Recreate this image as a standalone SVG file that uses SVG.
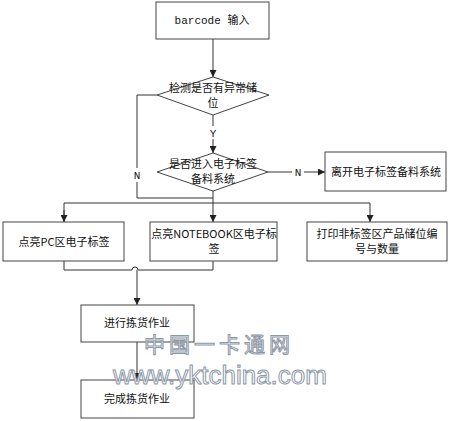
<svg xmlns="http://www.w3.org/2000/svg" width="450" height="421" viewBox="0 0 450 421">
<style>
.box{fill:#fff;stroke:#444;stroke-width:1}
.ln{fill:none;stroke:#333;stroke-width:1}
.t{font-family:"Noto Sans CJK SC","Liberation Sans",sans-serif;font-size:11px;fill:#111;text-anchor:middle}
.m{font-family:"Liberation Mono","Noto Sans CJK SC",monospace;font-size:11px;fill:#111;text-anchor:middle}
.wm{font-family:"Liberation Sans","Noto Sans CJK SC",sans-serif;fill:#fff;stroke:#8c97a8;stroke-width:1;text-anchor:middle}
</style>
<defs>
<marker id="ah" viewBox="0 0 8 8" refX="8" refY="4" markerWidth="7" markerHeight="7" orient="auto" markerUnits="userSpaceOnUse">
<path d="M0,0 L8,4 L0,8 Z" fill="#222"/>
</marker>
</defs>
<rect width="450" height="421" fill="#fff"/>
<g id="connectors">
<line class="ln" x1="213" y1="39" x2="213" y2="77" marker-end="url(#ah)"/>
<line class="ln" x1="213" y1="115" x2="213" y2="153" marker-end="url(#ah)"/>
<rect x="207" y="126" width="12" height="13" fill="#fff"/>
<text class="m" x="213" y="137">Y</text>
<polyline class="ln" points="157,95 137,95 137,198 213,198"/>
<rect x="131" y="168" width="12" height="14" fill="#fff"/>
<text class="m" x="137" y="179">N</text>
<line class="ln" x1="268" y1="172" x2="325" y2="172" marker-end="url(#ah)"/>
<rect x="292" y="166" width="12" height="13" fill="#fff"/>
<text class="m" x="298" y="176">N</text>
<line class="ln" x1="213" y1="191" x2="213" y2="222" marker-end="url(#ah)"/>
<polyline class="ln" points="64,222 64,203 370,203 370,222" marker-end="url(#ah)"/>
<line class="ln" x1="64" y1="210" x2="64" y2="222" marker-end="url(#ah)"/>
<path class="ln" d="M64,261 L64,270 L132,270 A3,3 0 0 1 138,270 L213,270 L213,261"/>
<line class="ln" x1="137" y1="270" x2="137" y2="305" marker-end="url(#ah)"/>
<line class="ln" x1="137" y1="342" x2="137" y2="380" marker-end="url(#ah)"/>
</g>
<g id="n1"><rect class="box" x="156" y="2" width="113" height="37"/><text class="m" x="212" y="24">barcode 输入</text></g>
<g id="d1"><polygon class="box" points="213,77 269,95 213,115 157,95"/><text class="t" x="213" y="92">检测是否有异常储</text><text class="t" x="213" y="107">位</text></g>
<g id="d2"><polygon class="box" points="213,153 268,172 213,191 157,172"/><text class="t" x="213" y="168">是否进入电子标签</text><text class="t" x="213" y="183">备料系统</text></g>
<g id="n2"><rect class="box" x="325" y="152" width="121" height="39"/><text class="t" x="386" y="176">离开电子标签备料系统</text></g>
<g id="b1"><rect class="box" x="3" y="222" width="121" height="39"/><text class="t" x="64" y="246">点亮PC区电子标签</text></g>
<g id="b2"><rect class="box" x="150" y="222" width="127" height="39"/><text class="t" x="214" y="238">点亮NOTEBOOK区电子标</text><text class="t" x="214" y="253">签</text></g>
<g id="b3"><rect class="box" x="307" y="222" width="140" height="39"/><text class="t" x="377" y="238">打印非标签区产品储位编</text><text class="t" x="377" y="253">号与数量</text></g>
<g id="b4"><rect class="box" x="81" y="305" width="113" height="37"/><text class="t" x="137" y="327">进行拣货作业</text></g>
<g id="b5"><rect class="box" x="81" y="380" width="113" height="38"/><text class="t" x="137" y="403">完成拣货作业</text></g>
<g id="watermark">
<text class="wm" x="219" y="352" style="font-family:'Noto Sans CJK SC',sans-serif;font-size:21px;letter-spacing:4px">中国一卡通网</text>
<text class="wm" x="220" y="384" style="font-size:26px">www.yktchina.com</text>
</g>
</svg>
